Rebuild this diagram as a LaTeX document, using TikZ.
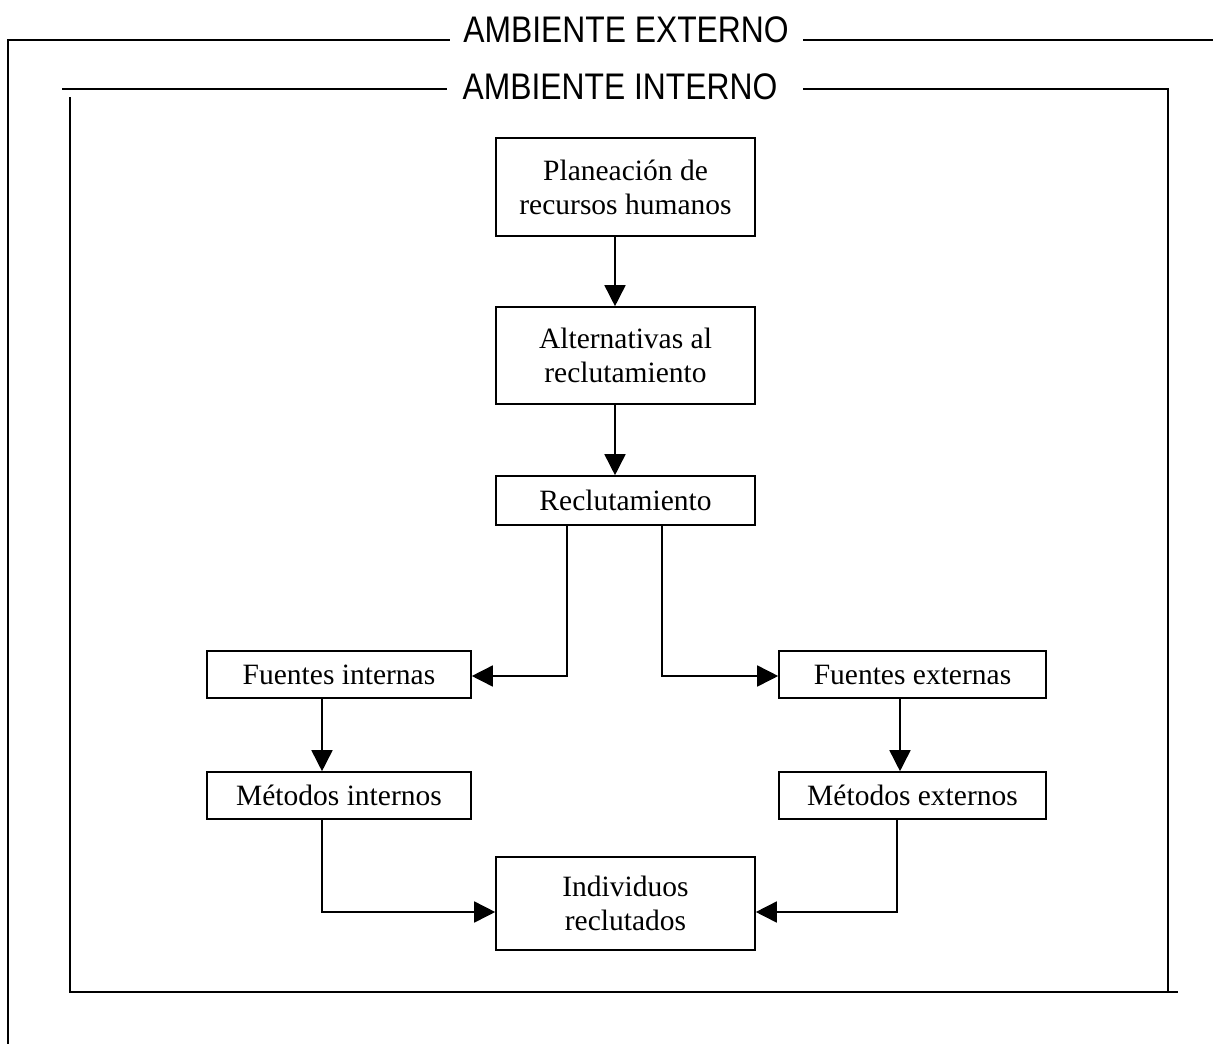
\documentclass[tikz,border=0pt]{standalone}
\usepackage{fontspec}
\setmainfont{Liberation Serif}
\newfontfamily\hdr[FakeStretch=0.86]{Liberation Sans}
\usetikzlibrary{arrows.meta}
\tikzset{
  box/.style={draw, line width=1.6pt, inner sep=0pt, align=center,
    font=\fontsize{29.5}{34}\selectfont},
  conn/.style={line width=1.6pt},
  arr/.style={conn, -{Triangle[length=21pt,width=21pt]}},
  frame/.style={line width=1.6pt},
  hdrtext/.style={inner sep=0pt, font=\hdr\fontsize{37}{42}\selectfont}
}
\begin{document}
\begin{tikzpicture}[x=1pt,y=-1pt]
\useasboundingbox (0,0) rectangle (1213,1044);
% outer frame
\node[hdrtext] (ext) at (626,30) {AMBIENTE EXTERNO};
\coordinate (oA) at (8,1044);
\coordinate (oB) at (8,40);
\coordinate (oC) at (450,40);
\coordinate (oD) at (803,40);
\coordinate (oE) at (1213,40);
\draw[frame] (oA) -- (oB) -- (oC);
\draw[frame] (oD) -- (oE);
% inner frame
\node[hdrtext] (int) at (620,87) {AMBIENTE INTERNO};
\coordinate (iA) at (62,89);
\coordinate (iB) at (447,89);
\coordinate (iC) at (803,89);
\coordinate (iD) at (1168,89);
\coordinate (iE) at (1168,992);
\coordinate (iF) at (70,97);
\coordinate (iG) at (70,992);
\coordinate (iH) at (1178,992);
\draw[frame] (iA) -- (iB);
\draw[frame] (iC) -- (iD) -- (iE);
\draw[frame] (iF) -- (iG) -- (iH);
% boxes
\node[box, minimum width=259pt, minimum height=98pt] (plan) at (625.5,187) {Planeación de\\recursos humanos};
\node[box, minimum width=259pt, minimum height=97pt] (alt) at (625.5,355.5) {Alternativas al\\reclutamiento};
\node[box, minimum width=259pt, minimum height=49pt] (rec) at (625.5,500.5) {Reclutamiento};
\node[box, minimum width=264pt, minimum height=47pt] (fi) at (339,674.5) {Fuentes internas};
\node[box, minimum width=267pt, minimum height=47pt] (fe) at (912.5,674.5) {Fuentes externas};
\node[box, minimum width=264pt, minimum height=47pt] (mi) at (339,795.5) {Métodos internos};
\node[box, minimum width=267pt, minimum height=47pt] (me) at (912.5,795.5) {Métodos externos};
\node[box, minimum width=259pt, minimum height=93pt] (ind) at (625.5,903.5) {Individuos\\reclutados};
% connectors
\draw[arr] (plan.south -| 615,0) -- (alt.north -| 615,0);
\draw[arr] (alt.south -| 615,0) -- (rec.north -| 615,0);
\draw[arr] (rec.south -| 567,0) |- (fi.east |- 0,676);
\draw[arr] (rec.south -| 662,0) |- (fe.west |- 0,676);
\draw[arr] (fi.south -| 322,0) -- (mi.north -| 322,0);
\draw[arr] (fe.south -| 900,0) -- (me.north -| 900,0);
\draw[arr] (mi.south -| 322,0) |- (ind.west |- 0,912);
\draw[arr] (me.south -| 897,0) |- (ind.east |- 0,912);
\end{tikzpicture}
\end{document}
